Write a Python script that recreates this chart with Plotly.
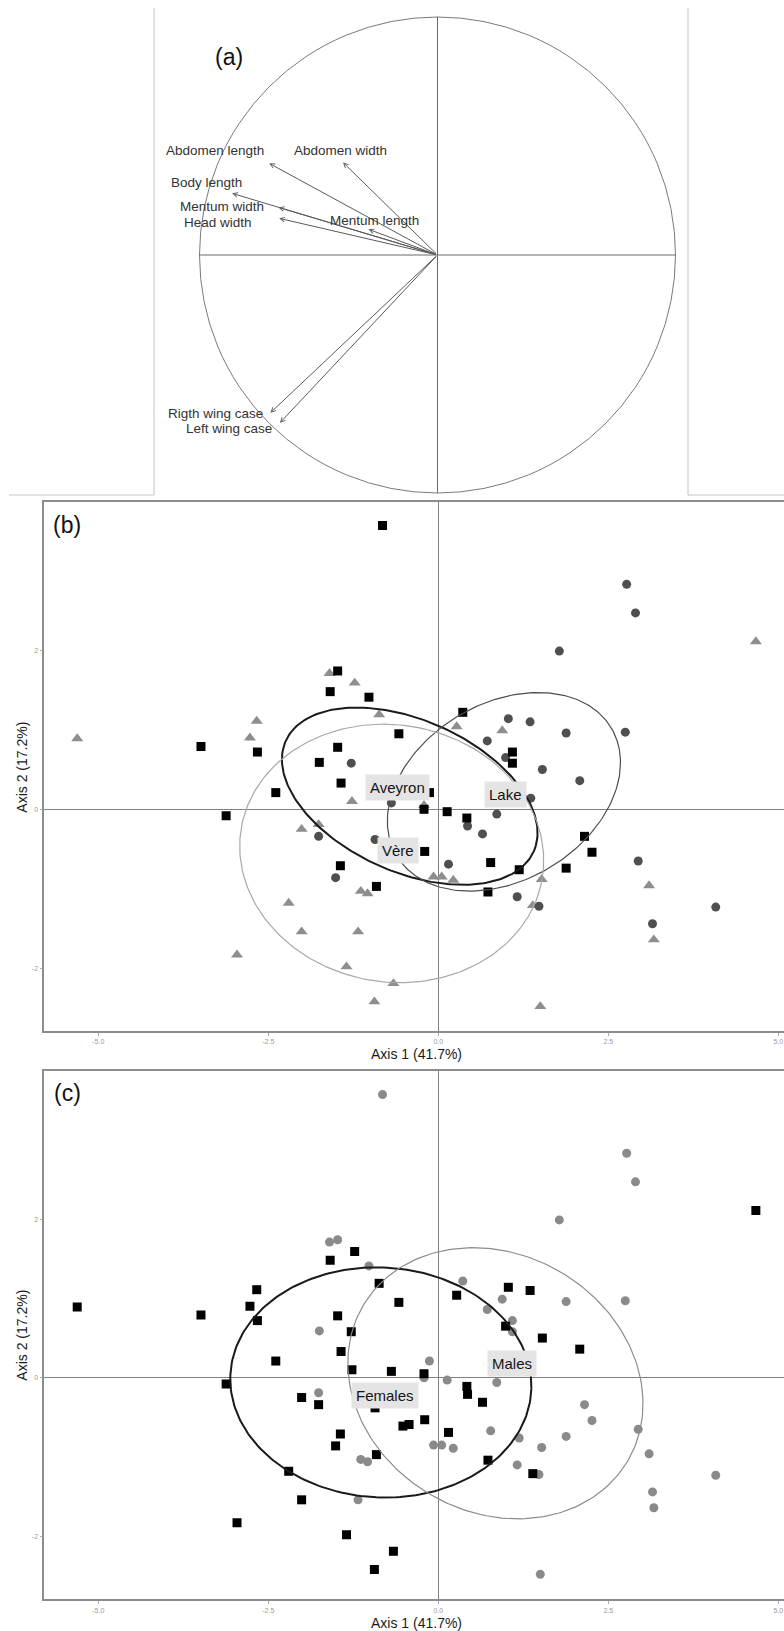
import numpy as np
import plotly.graph_objects as go

W, H = 784, 1631
FONT = "Liberation Sans, Arial, sans-serif"

# ---------------- (a) variable loadings on axes 1 and 2 ----------------
var_names = ["Abdomen length", "Abdomen width", "Body length", "Mentum width",
             "Head width", "Mentum length", "Rigth wing case", "Left wing case"]
load_ax1 = [-0.707, -0.397, -0.863, -0.668, -0.665, -0.290, -0.702, -0.662]
load_ax2 = [0.385, 0.389, 0.259, 0.200, 0.154, 0.108, -0.663, -0.705]

# ---------------- individual scores, site and sex ----------------
score_ax1 = [
    # Aveyron
    -0.82, -3.49, -2.66, -2.39, -3.12, -1.48, -1.59, -1.02, -0.58, -1.48,
    -1.75, -1.43, 0.36, 1.09, 1.09, -0.21, 0.13, 0.42, -0.20, 0.77,
    1.19, 2.15, 2.26, 1.88, 0.73, -1.44, -0.91, -0.13, -0.52,
    # Lake
    -1.28, -0.69, 2.77, 2.90, 1.78, 1.03, 1.35, 1.88, 2.75, 0.72,
    0.99, 1.53, 2.08, 1.36, 0.86, 0.43, 0.65, 0.15, 2.94, 1.16,
    1.48, 4.08, 3.15, -1.76, -0.93, -1.51, -0.43,
    # Vère
    -5.31, -2.67, -2.77, -1.60, -1.23, -0.87, -1.27, 4.67, 0.27, 0.94,
    -0.21, -0.07, 0.05, 0.22, 1.52, 1.39, 3.10, 3.17, 1.50, -0.66,
    -2.01, -1.76, -1.14, -1.04, -2.20, -2.01, -1.18, -2.96, -1.35, -0.94,
]
score_ax2 = [
    # Aveyron
    3.57, 0.79, 0.72, 0.21, -0.08, 1.74, 1.48, 1.41, 0.95, 0.78,
    0.59, 0.33, 1.22, 0.72, 0.58, 0.00, -0.03, -0.11, -0.53, -0.67,
    -0.76, -0.34, -0.54, -0.74, -1.04, -0.71, -0.97, 0.21, -0.61,
    # Lake
    0.58, 0.08, 2.83, 2.47, 1.99, 1.14, 1.10, 0.96, 0.97, 0.86,
    0.65, 0.50, 0.36, 0.14, -0.06, -0.21, -0.31, -0.69, -0.65, -1.10,
    -1.22, -1.23, -1.44, -0.34, -0.38, -0.86, -0.59,
    # Vère
    0.89, 1.11, 0.90, 1.71, 1.59, 1.19, 0.10, 2.11, 1.04, 0.99,
    0.05, -0.85, -0.85, -0.89, -0.88, -1.21, -0.96, -1.64, -2.48, -2.19,
    -0.25, -0.19, -1.03, -1.06, -1.18, -1.54, -1.54, -1.83, -1.98, -2.42,
]
site = ["Aveyron"] * 29 + ["Lake"] * 27 + ["Vère"] * 30
sex = [
    # Aveyron
    "M", "F", "F", "F", "F", "M", "F", "M", "F", "F",
    "M", "F", "M", "M", "M", "M", "M", "F", "F", "M",
    "M", "M", "M", "M", "F", "F", "F", "M", "F",
    # Lake
    "F", "F", "M", "M", "M", "F", "F", "M", "M", "M",
    "F", "F", "F", "M", "M", "F", "F", "F", "M", "M",
    "M", "M", "M", "F", "F", "F", "F",
    # Vère
    "F", "F", "F", "M", "F", "F", "F", "F", "F", "M",
    "F", "M", "M", "M", "M", "F", "M", "M", "M", "F",
    "F", "M", "M", "M", "F", "F", "M", "F", "F", "F",
]

# ---------------- 95% ellipses: centre, semi-axes, rotation (deg) ----------------
site_groups = ["Aveyron", "Lake", "Vère"]
site_ell_cx = [-0.42, 0.965, -0.685]
site_ell_cy = [0.165, 0.22, -0.555]
site_ell_a = [1.956, 1.784, 2.239]
site_ell_b = [0.975, 1.147, 1.62]
site_ell_rot = [-18.6, 21.2, -4.8]

sex_groups = ["Females", "Males"]
sex_ell_cx = [-0.845, 0.84]
sex_ell_cy = [-0.06, -0.07]
sex_ell_a = [2.215, 2.207]
sex_ell_b = [1.45, 1.662]
sex_ell_rot = [-2.0, -16.0]

# group label anchors
site_label_x = [-0.60, 0.99, -0.60]
site_label_y = [0.27, 0.18, -0.52]
sex_label_x = [-0.79, 1.09]
sex_label_y = [-0.22, 0.18]

# axis ticks
x_tickvals = [-5.0, -2.5, 0.0, 2.5, 5.0]
x_ticktext = ["-5.0", "-2.5", "0.0", "2.5", "5.0"]
y_tickvals = [-2, 0, 2]
y_ticktext = ["-2", "0", "2"]

# ---------------- styling ----------------
site_style = {
    "Vère": dict(symbol="triangle-up", color="#8e8e8e", size=10.5),
    "Lake": dict(symbol="circle", color="#4f4f4f", size=9),
    "Aveyron": dict(symbol="square", color="#000000", size=9),
}
site_ell_style = {
    "Aveyron": dict(color="#1a1a1a", width=2.0),
    "Lake": dict(color="#4d4d4d", width=1.2),
    "Vère": dict(color="#a8a8a8", width=1.2),
}
sex_style = {
    "M": dict(symbol="circle", color="#8a8a8a", size=9),
    "F": dict(symbol="square", color="#000000", size=9),
}
sex_ell_style = {
    "Females": dict(color="#1a1a1a", width=2.0),
    "Males": dict(color="#8c8c8c", width=1.2),
}
# label offsets (pixels) around arrow tips in panel (a)
label_shift = {
    "Abdomen length": (-54, 13), "Abdomen width": (-3, 12),
    "Body length": (-26, 11), "Mentum width": (-57, 1),
    "Head width": (-61, -4), "Mentum length": (6, 9),
    "Rigth wing case": (-55, -1), "Left wing case": (-51, -6),
}


def pxx(p):
    return p / W


def pxy(p):
    return 1 - p / H


def ellipse(cx, cy, a, b, deg, n=240):
    t = np.linspace(0, 2 * np.pi, n)
    th = np.radians(deg)
    x = cx + a * np.cos(t) * np.cos(th) - b * np.sin(t) * np.sin(th)
    y = cy + a * np.cos(t) * np.sin(th) + b * np.sin(t) * np.cos(th)
    return x, y


s1 = np.array(score_ax1)
s2 = np.array(score_ax2)
site_arr = np.array(site)
sex_arr = np.array(sex)

fig = go.Figure()

# ---- panel (a): invisible anchor trace for the loading axes
fig.add_trace(go.Scatter(x=load_ax1, y=load_ax2, xaxis="x3", yaxis="y3",
                         mode="markers", marker=dict(size=1, opacity=0),
                         hoverinfo="skip", showlegend=False))

# ---- panel (b): scores coloured by site
for g in ["Vère", "Lake", "Aveyron"]:
    m = site_arr == g
    st = site_style[g]
    fig.add_trace(go.Scatter(x=s1[m], y=s2[m], xaxis="x", yaxis="y", mode="markers",
                             marker=dict(symbol=st["symbol"], color=st["color"],
                                         size=st["size"], line=dict(width=0)),
                             showlegend=False, hoverinfo="skip"))
for i, g in enumerate(site_groups):
    ex, ey = ellipse(site_ell_cx[i], site_ell_cy[i], site_ell_a[i],
                     site_ell_b[i], site_ell_rot[i])
    fig.add_trace(go.Scatter(x=ex, y=ey, xaxis="x", yaxis="y", mode="lines",
                             line=site_ell_style[g], showlegend=False, hoverinfo="skip"))

# ---- panel (c): scores coloured by sex
for g in ["M", "F"]:
    m = sex_arr == g
    st = sex_style[g]
    fig.add_trace(go.Scatter(x=s1[m], y=s2[m], xaxis="x2", yaxis="y2", mode="markers",
                             marker=dict(symbol=st["symbol"], color=st["color"],
                                         size=st["size"], line=dict(width=0)),
                             showlegend=False, hoverinfo="skip"))
for i, g in enumerate(sex_groups):
    ex, ey = ellipse(sex_ell_cx[i], sex_ell_cy[i], sex_ell_a[i],
                     sex_ell_b[i], sex_ell_rot[i])
    fig.add_trace(go.Scatter(x=ex, y=ey, xaxis="x2", yaxis="y2", mode="lines",
                             line=sex_ell_style[g], showlegend=False, hoverinfo="skip"))

# ---- axes
x_range = [(44.3 - 438.3) / 68.0, (784 - 438.3) / 68.0]
base_x = dict(range=x_range, domain=[pxx(44.3), 1.0], showgrid=False,
              zeroline=True, zerolinecolor="#808080", zerolinewidth=1.3,
              showline=True, linecolor="#8c8c8c", linewidth=1.6, mirror=True,
              ticks="outside", ticklen=3, tickwidth=1, tickcolor="#aaaaaa",
              tickvals=x_tickvals, ticktext=x_ticktext,
              tickfont=dict(size=7, color="#9a9a9a", family=FONT), fixedrange=True)
base_y = dict(showgrid=False, zeroline=True, zerolinecolor="#808080", zerolinewidth=1.3,
              showline=True, linecolor="#8c8c8c", linewidth=1.6, mirror=False,
              ticks="outside", ticklen=3, tickwidth=1, tickcolor="#aaaaaa",
              tickvals=y_tickvals, ticktext=y_ticktext,
              tickfont=dict(size=7, color="#9a9a9a", family=FONT), fixedrange=True)

layout_axes = dict(
    xaxis=dict(base_x, anchor="y"),
    yaxis=dict(base_y, anchor="x", domain=[pxy(1030.7), pxy(501.7)],
               range=[(809.3 - 1030.7) / 79.5, (809.3 - 501.7) / 79.5]),
    xaxis2=dict(base_x, anchor="y2"),
    yaxis2=dict(base_y, anchor="x2", domain=[pxy(1599.3), pxy(1070.7)],
                range=[(1377.7 - 1599.3) / 79.3, (1377.7 - 1070.7) / 79.3]),
    xaxis3=dict(anchor="y3", domain=[0, 1], range=[-437.5 / 238, (W - 437.5) / 238],
                visible=False, fixedrange=True),
    yaxis3=dict(anchor="x3", domain=[pxy(500), 1], range=[(255 - 500) / 238, 255 / 238],
                visible=False, fixedrange=True),
)

shapes = [
    # correlation circle and its axes
    dict(type="circle", xref="x3", yref="y3", x0=-1, x1=1, y0=-1, y1=1,
         line=dict(color="#7a7a7a", width=1)),
    dict(type="line", xref="x3", yref="y3", x0=-1, x1=1, y0=0, y1=0,
         line=dict(color="#6a6a6a", width=1)),
    dict(type="line", xref="x3", yref="y3", x0=0, x1=0, y0=-1, y1=1,
         line=dict(color="#6a6a6a", width=1)),
    # panel (a) border pieces
    dict(type="line", xref="paper", yref="paper", x0=pxx(154), x1=pxx(154),
         y0=pxy(8), y1=pxy(495), line=dict(color="#c4c4c4", width=1)),
    dict(type="line", xref="paper", yref="paper", x0=pxx(688), x1=pxx(688),
         y0=pxy(8), y1=pxy(495), line=dict(color="#c4c4c4", width=1)),
    dict(type="line", xref="paper", yref="paper", x0=pxx(9), x1=pxx(154),
         y0=pxy(495), y1=pxy(495), line=dict(color="#c4c4c4", width=1)),
    dict(type="line", xref="paper", yref="paper", x0=pxx(688), x1=1,
         y0=pxy(495), y1=pxy(495), line=dict(color="#c4c4c4", width=1)),
]

annotations = []
# loading arrows and their labels
for name, lx, ly in zip(var_names, load_ax1, load_ax2):
    annotations.append(dict(x=lx, y=ly, ax=0, ay=0, xref="x3", yref="y3",
                            axref="x3", ayref="y3", text="", showarrow=True,
                            arrowhead=5, arrowsize=0.9, arrowwidth=1,
                            arrowcolor="#5a5a5a", standoff=0))
    dx, dy = label_shift[name]
    annotations.append(dict(x=lx, y=ly, xref="x3", yref="y3", text=name,
                            showarrow=False, xshift=dx, yshift=dy,
                            font=dict(size=13.5, color="#333333", family=FONT)))

# group labels
for g, lx, ly in zip(site_groups, site_label_x, site_label_y):
    annotations.append(dict(x=lx, y=ly, xref="x", yref="y", text=g, showarrow=False,
                            bgcolor="#e4e4e4", borderpad=4,
                            font=dict(size=15, color="#151515", family=FONT)))
for g, lx, ly in zip(sex_groups, sex_label_x, sex_label_y):
    annotations.append(dict(x=lx, y=ly, xref="x2", yref="y2", text=g, showarrow=False,
                            bgcolor="#e4e4e4", borderpad=4,
                            font=dict(size=15, color="#151515", family=FONT)))

# panel letters
for txt, cx, cy in [("(a)", 229, 57), ("(b)", 67, 525), ("(c)", 67, 1093)]:
    annotations.append(dict(x=pxx(cx), y=pxy(cy), xref="paper", yref="paper",
                            text=txt, showarrow=False, xanchor="center", yanchor="middle",
                            font=dict(size=23, color="#111111", family=FONT)))

# axis titles
for cy in [1054, 1622.5]:
    annotations.append(dict(x=pxx(416), y=pxy(cy), xref="paper", yref="paper",
                            text="Axis 1 (41.7%)", showarrow=False,
                            xanchor="center", yanchor="middle",
                            font=dict(size=14, color="#1a1a1a", family=FONT)))
for cy in [767, 1335]:
    annotations.append(dict(x=pxx(21.7), y=pxy(cy), xref="paper", yref="paper",
                            text="Axis 2 (17.2%)", showarrow=False, textangle=-90,
                            xanchor="center", yanchor="middle",
                            font=dict(size=14, color="#1a1a1a", family=FONT)))

fig.update_layout(
    width=W, height=H,
    margin=dict(l=0, r=0, t=0, b=0),
    paper_bgcolor="white", plot_bgcolor="white",
    showlegend=False,
    font=dict(family=FONT),
    shapes=shapes,
    annotations=annotations,
    **layout_axes,
)

fig.write_html("out.html", config={"displayModeBar": False})
